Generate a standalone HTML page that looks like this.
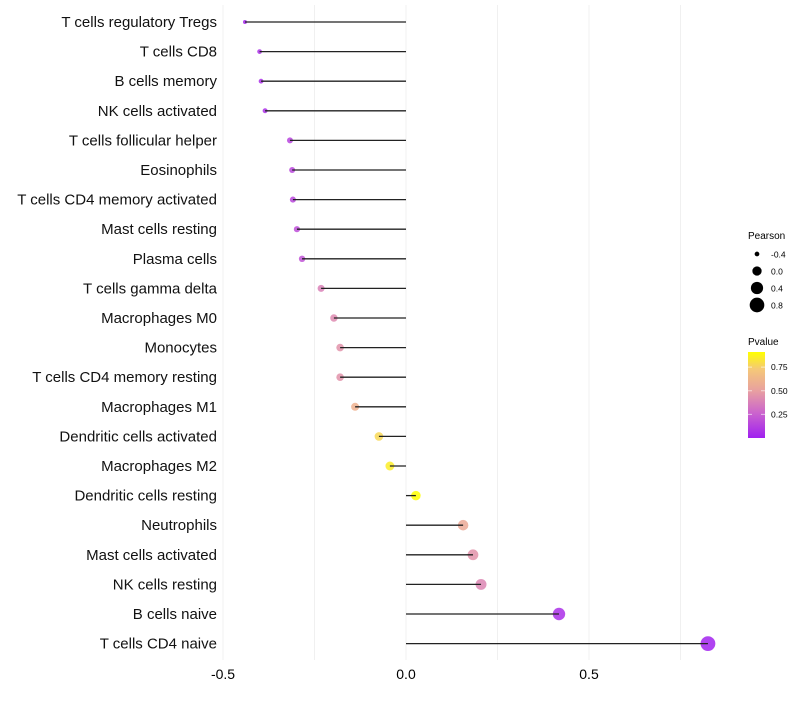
<!DOCTYPE html>
<html><head><meta charset="utf-8"><style>
body{margin:0;background:#fff;font-family:"Liberation Sans",sans-serif}
</style></head><body>
<svg id="c" width="800" height="700" xmlns="http://www.w3.org/2000/svg">
<defs><linearGradient id="pg" x1="0" y1="1" x2="0" y2="0">
<stop offset="0" stop-color="#A020F0"/><stop offset="0.3" stop-color="#CC66CC"/><stop offset="0.55" stop-color="#E8A0A0"/><stop offset="0.8" stop-color="#F5C878"/><stop offset="1" stop-color="#FFFF00"/></linearGradient></defs>
<g id="grid"></g><g id="marks"></g><g id="labels"></g><g id="legend"></g>
</svg>
<script>
const categories=["T cells regulatory  Tregs","T cells CD8","B cells memory","NK cells activated","T cells follicular helper","Eosinophils","T cells CD4 memory activated","Mast cells resting","Plasma cells","T cells gamma delta","Macrophages M0","Monocytes","T cells CD4 memory resting","Macrophages M1","Dendritic cells activated","Macrophages M2","Dendritic cells resting","Neutrophils","Mast cells activated","NK cells resting","B cells naive","T cells CD4 naive"];
const pearson=[-0.44,-0.40,-0.396,-0.385,-0.317,-0.311,-0.309,-0.298,-0.284,-0.232,-0.197,-0.18,-0.18,-0.139,-0.074,-0.044,0.027,0.156,0.183,0.205,0.418,0.825];
const pvalue=[0.03,0.06,0.06,0.07,0.14,0.15,0.15,0.18,0.2,0.38,0.42,0.45,0.45,0.6,0.78,0.85,0.91,0.55,0.45,0.4,0.06,0.01];
const xTicks=[-0.5,0,0.5];
const xTickLabels=["-0.5","0.0","0.5"];
const NS="http://www.w3.org/2000/svg";
const x=v=>406+v*366;
const y=i=>22+i*29.6;
const r=v=>Math.sqrt(Math.max(1,21.6+40*v));
const stops=[[0,[160,32,240]],[0.3,[204,102,204]],[0.55,[232,160,160]],[0.8,[245,200,120]],[1,[255,255,0]]];
function col(p){let t=Math.min(1,Math.max(0,p/0.91));for(let k=1;k<stops.length;k++){if(t<=stops[k][0]){const a=stops[k-1],b=stops[k];const f=(t-a[0])/(b[0]-a[0]);return 'rgb('+a[1].map((c,j)=>Math.round(c+(b[1][j]-c)*f)).join(',')+')';}}return 'rgb(255,255,0)';}
function el(t,a,p){const e=document.createElementNS(NS,t);for(const k in a)e.setAttribute(k,a[k]);p.appendChild(e);return e;}
const grid=document.getElementById('grid'),marks=document.getElementById('marks'),labels=document.getElementById('labels'),legend=document.getElementById('legend');
for(let v=-0.5;v<=0.75;v+=0.25){const g=el('line',{x1:x(v),x2:x(v),y1:5,y2:660,stroke:'#f0f0f0','stroke-width':1},grid);}
xTicks.forEach((v,i)=>{const t=el('text',{x:x(v),y:679,'text-anchor':'middle','font-size':14,fill:'#000'},labels);t.textContent=xTickLabels[i];});
categories.forEach((c,i)=>{
const t=el('text',{x:217,y:y(i)+5,'text-anchor':'end','font-size':15,fill:'#111'},labels);t.textContent=c;

const d=el('circle',{cx:x(pearson[i]),cy:y(i),r:r(pearson[i]),fill:col(pvalue[i]),'fill-opacity':0.85},marks);

const l=el('line',{x1:x(0),x2:x(pearson[i]),y1:y(i),y2:y(i),stroke:'#222','stroke-width':1.3},marks);

});
const lt=el('text',{x:748,y:239,'font-size':10},legend);lt.textContent='Pearson';
[-0.4,0,0.4,0.8].forEach((v,i)=>{const yy=254+i*17;const c=el('circle',{cx:757,cy:yy,r:r(v),fill:'#000'},legend);
const t=el('text',{x:771,y:yy+3.5,'font-size':8.5},legend);t.textContent=v===0?'0.0':String(v);});
const pt=el('text',{x:748,y:345,'font-size':10},legend);pt.textContent='Pvalue';
const bar=el('rect',{x:748,y:352,width:17,height:86,fill:'url(#pg)'},legend);
[[0.75,'0.75'],[0.5,'0.50'],[0.25,'0.25']].forEach(([v,s])=>{const yy=438-v*94.5;el('line',{x1:748,x2:752,y1:yy,y2:yy,stroke:'#fff','stroke-opacity':0.6},legend);el('line',{x1:761,x2:765,y1:yy,y2:yy,stroke:'#fff','stroke-opacity':0.6},legend);
const t=el('text',{x:771,y:yy+3,'font-size':8.5},legend);t.textContent=s;});
</script>
</body></html>
